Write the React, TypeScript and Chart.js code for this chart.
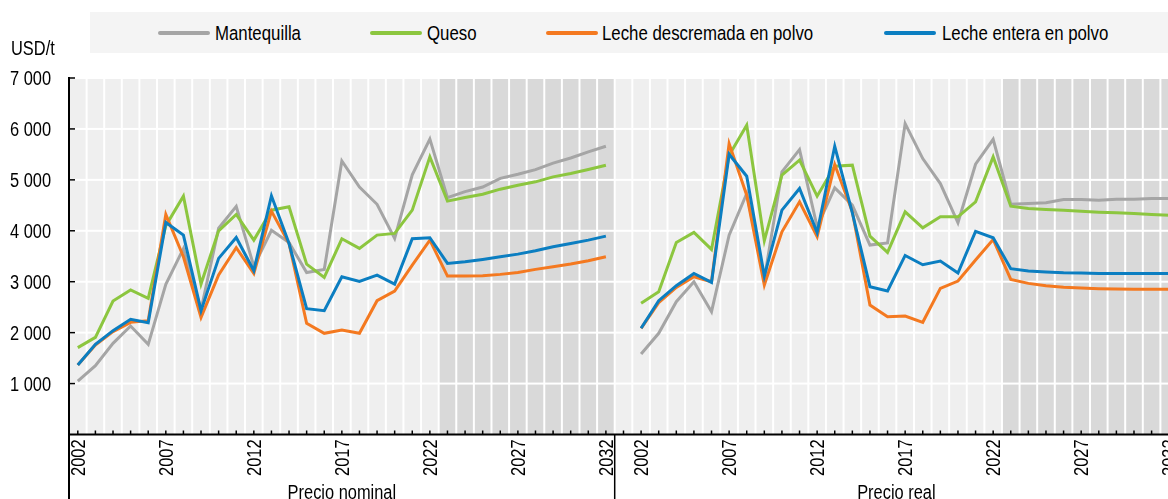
import React, { useEffect, useRef } from "react";
import { Chart, registerables } from "chart.js";

Chart.register(...registerables);

// ---------- Data ----------
const YEARS = [
  2002, 2003, 2004, 2005, 2006, 2007, 2008, 2009, 2010, 2011, 2012, 2013, 2014, 2015, 2016,
  2017, 2018, 2019, 2020, 2021, 2022, 2023, 2024, 2025, 2026, 2027, 2028, 2029, 2030, 2031, 2032,
];
const PROJECTION_START = 2023;
const LABEL_EVERY_FROM = 2002;
const PANEL_TITLES = ["Precio nominal", "Precio real"];
const SERIES_NAMES = ["Mantequilla", "Queso", "Leche descremada en polvo", "Leche entera en polvo"];
const Y_UNIT = "USD/t";
const Y_MIN = 0;
const Y_MAX = 7000;
const Y_STEP = 1000;

// Precio nominal
const butterNominal = [1050, 1350, 1790, 2130, 1770, 2950, 3650, 2450, 4050, 4480, 3300, 4010, 3770, 3180, 3240, 5370, 4860, 4520, 3850, 5100, 5800, 4650, 4770, 4860, 5030, 5110, 5200, 5330, 5430, 5550, 5660];
const cheeseNominal = [1706, 1908, 2621, 2837, 2673, 4100, 4680, 2954, 4000, 4320, 3817, 4405, 4471, 3346, 3085, 3843, 3654, 3915, 3948, 4405, 5451, 4582, 4654, 4719, 4817, 4895, 4961, 5059, 5124, 5203, 5288];
const smpNominal = [1366, 1758, 2020, 2203, 2235, 4320, 3490, 2300, 3131, 3667, 3163, 4386, 3752, 2183, 1987, 2052, 1987, 2627, 2817, 3327, 3817, 3111, 3111, 3118, 3144, 3183, 3242, 3294, 3346, 3412, 3490];
const wmpNominal = [1366, 1771, 2039, 2261, 2196, 4163, 3915, 2431, 3458, 3869, 3216, 4686, 3750, 2471, 2431, 3098, 3007, 3131, 2954, 3843, 3863, 3359, 3392, 3438, 3490, 3542, 3608, 3686, 3752, 3817, 3895];

// Precio real
const butterReal = [1582, 1987, 2608, 3000, 2412, 3915, 4732, 3050, 5157, 5595, 4078, 4843, 4503, 3719, 3760, 6105, 5418, 4928, 4157, 5307, 5797, 4523, 4536, 4549, 4614, 4614, 4601, 4621, 4621, 4634, 4634];
const cheeseReal = [2575, 2804, 3771, 3967, 3634, 5484, 6072, 3804, 5092, 5386, 4680, 5268, 5288, 3895, 3575, 4373, 4059, 4275, 4275, 4569, 5451, 4484, 4438, 4418, 4405, 4386, 4366, 4353, 4340, 4320, 4307];
const smpReal = [2085, 2588, 2889, 3098, 3000, 5712, 4699, 2935, 3980, 4569, 3882, 5301, 4373, 2542, 2314, 2327, 2203, 2869, 3013, 3425, 3830, 3046, 2967, 2922, 2889, 2876, 2863, 2856, 2850, 2850, 2850];
const wmpReal = [2085, 2627, 2922, 3163, 2987, 5503, 5072, 3111, 4405, 4830, 3967, 5660, 4350, 2902, 2817, 3516, 3333, 3405, 3170, 3987, 3863, 3255, 3209, 3190, 3176, 3170, 3163, 3163, 3163, 3163, 3163];

// ---------- Styles ----------
const COLORS = ["#a5a5a5", "#8cc63f", "#f47920", "#0b7ec1"];
const FONT = "'Liberation Sans', Arial, sans-serif";
const NARROW = 0.82; // horizontal squeeze to mimic Arial Narrow
const FONT_SIZE = 20;
const STRIPE = "#efefef";
const STRIPE_PROJ = "#d9d9d9";

const nominalSeries = [butterNominal, cheeseNominal, smpNominal, wmpNominal];
const realSeries = [butterReal, cheeseReal, smpReal, wmpReal];

// category labels: left panel, gap category, right panel
const LABELS: string[] = [...YEARS.map(String), "", ...YEARS.map(String)];
const LEFT_COUNT = YEARS.length;

function fmt(v: number): string {
  return String(v).replace(/\B(?=(\d{3})+(?!\d))/g, " ");
}

function narrowText(
  ctx: CanvasRenderingContext2D,
  text: string,
  x: number,
  y: number,
  align: CanvasTextAlign,
  rotate = 0
) {
  ctx.save();
  ctx.translate(x, y);
  if (rotate) ctx.rotate(rotate);
  ctx.scale(NARROW, 1);
  ctx.font = `${FONT_SIZE}px ${FONT}`;
  ctx.fillStyle = "#000000";
  ctx.textAlign = align;
  ctx.textBaseline = "alphabetic";
  ctx.fillText(text, 0, 0);
  ctx.restore();
}

const backgroundPlugin = {
  id: "stripes",
  beforeDraw(chart: any) {
    const { ctx, chartArea: a, scales } = chart;
    const x = scales.x;
    const y = scales.y;
    const step = x.getPixelForValue(1) - x.getPixelForValue(0);
    ctx.save();
    ctx.fillStyle = "#ffffff";
    ctx.fillRect(a.left, a.top, a.right - a.left, a.bottom - a.top);
    for (let i = 0; i < LABELS.length; i++) {
      const cx = x.getPixelForValue(i);
      const yr = Number(LABELS[i]);
      const proj = LABELS[i] !== "" && yr >= PROJECTION_START;
      ctx.fillStyle = proj ? STRIPE_PROJ : STRIPE;
      ctx.fillRect(cx - step / 2 + 1, a.top, step - 2, a.bottom - a.top);
    }
    ctx.fillStyle = "#ffffff";
    for (let v = Y_MIN + Y_STEP; v <= Y_MAX; v += Y_STEP) {
      const yy = y.getPixelForValue(v);
      ctx.fillRect(a.left, yy - 1, a.right - a.left, 2);
    }
    ctx.restore();
  },
};

const axesPlugin = {
  id: "axesInward",
  afterDraw(chart: any) {
    const { ctx, chartArea: a, scales, height } = chart;
    const x = scales.x;
    const y = scales.y;
    const step = x.getPixelForValue(1) - x.getPixelForValue(0);
    const capHalf = FONT_SIZE * 0.716 / 2;
    ctx.save();
    ctx.strokeStyle = "#000000";
    // y ticks (inward) + labels
    ctx.lineWidth = 1.5;
    for (let v = Y_MIN + Y_STEP; v <= Y_MAX; v += Y_STEP) {
      const yy = y.getPixelForValue(v);
      ctx.beginPath();
      ctx.moveTo(a.left, yy);
      ctx.lineTo(a.left + 6, yy);
      ctx.stroke();
      narrowText(ctx, fmt(v), a.left - 18, yy + capHalf, "right");
    }
    // x ticks (inward) + rotated labels
    for (let i = 0; i < LABELS.length; i++) {
      const cx = x.getPixelForValue(i);
      ctx.beginPath();
      ctx.moveTo(cx, a.bottom);
      ctx.lineTo(cx, a.bottom - 4);
      ctx.stroke();
      const lab = LABELS[i];
      if (lab && (Number(lab) - LABEL_EVERY_FROM) % 5 === 0) {
        narrowText(ctx, lab, cx + capHalf, a.bottom + 5, "right", -Math.PI / 2);
      }
    }
    ctx.lineWidth = 2;
    // y axis line (extends down through label area)
    ctx.beginPath();
    ctx.moveTo(a.left, a.top - 1);
    ctx.lineTo(a.left, height);
    ctx.stroke();
    // x axis line
    ctx.beginPath();
    ctx.moveTo(a.left, a.bottom);
    ctx.lineTo(a.right, a.bottom);
    ctx.stroke();
    // panel dividers
    const divs = [x.getPixelForValue(LEFT_COUNT - 1) + step / 2, x.getPixelForValue(LABELS.length - 1) + step / 2];
    ctx.lineWidth = 1.5;
    for (const dx of divs) {
      ctx.beginPath();
      ctx.moveTo(dx, a.bottom);
      ctx.lineTo(dx, height);
      ctx.stroke();
    }
    // panel titles
    const leftMid = (a.left + divs[0]) / 2;
    const rightMid = (divs[0] + divs[1]) / 2;
    narrowText(ctx, PANEL_TITLES[0], leftMid, height - 0.5, "center");
    narrowText(ctx, PANEL_TITLES[1], rightMid, height - 0.5, "center");
    ctx.restore();
  },
};

export default function App() {
  const ref = useRef<HTMLCanvasElement | null>(null);

  useEffect(() => {
    if (!ref.current) return;
    const pad = (arr: number[], before: boolean) => {
      const nulls: (number | null)[] = [];
      const gapLen = LABELS.length - arr.length;
      for (let i = 0; i < gapLen; i++) nulls.push(null);
      return before ? [...nulls, ...arr] : [...arr, ...nulls];
    };
    const datasets: any[] = [];
    SERIES_NAMES.forEach((name, i) => {
      datasets.push({
        label: name,
        data: pad(nominalSeries[i], false),
        borderColor: COLORS[i],
        backgroundColor: COLORS[i],
        borderWidth: 3,
        pointRadius: 0,
        tension: 0,
        spanGaps: false,
        order: 4 - i,
      });
      datasets.push({
        label: name + " (real)",
        data: pad(realSeries[i], true),
        borderColor: COLORS[i],
        backgroundColor: COLORS[i],
        borderWidth: 3,
        pointRadius: 0,
        tension: 0,
        spanGaps: false,
        order: 4 - i,
      });
    });

    const chart = new Chart(ref.current, {
      type: "line",
      data: { labels: LABELS, datasets },
      options: {
        responsive: false,
        animation: false,
        devicePixelRatio: 1,
        layout: { padding: { top: 78, right: 2, left: 0, bottom: 0 } },
        plugins: { legend: { display: false }, tooltip: { enabled: false } },
        scales: {
          x: {
            type: "category",
            offset: true,
            grid: { display: false, drawTicks: false },
            border: { display: false },
            ticks: { display: false },
            afterFit: (s: any) => {
              s.height = 64.5;
              s.paddingLeft = 0;
              s.paddingRight = 0;
            },
          },
          y: {
            min: Y_MIN,
            max: Y_MAX,
            grid: { display: false, drawTicks: false },
            border: { display: false },
            ticks: { display: false, stepSize: Y_STEP },
            afterFit: (s: any) => {
              s.width = 69;
              s.paddingTop = 0;
              s.paddingBottom = 0;
            },
          },
        },
      },
      plugins: [backgroundPlugin, axesPlugin],
    });
    return () => chart.destroy();
  }, []);

  const legendItems = [
    { line: 158, text: 215 },
    { line: 370, text: 427 },
    { line: 546, text: 602 },
    { line: 884, text: 942 },
  ];

  const narrowStyle: React.CSSProperties = {
    position: "absolute",
    fontSize: FONT_SIZE,
    lineHeight: `${FONT_SIZE}px`,
    whiteSpace: "nowrap",
    transform: `scaleX(${NARROW})`,
    transformOrigin: "0 0",
  };

  return (
    <div
      style={{
        position: "fixed",
        left: 0,
        top: 0,
        width: 1168,
        height: 499,
        overflow: "hidden",
        background: "#ffffff",
        fontFamily: FONT,
        color: "#000",
      }}
    >
      <canvas ref={ref} width={1180} height={499} style={{ position: "absolute", left: 0, top: 0 }} />
      <div
        style={{
          position: "absolute",
          left: 90,
          top: 12,
          width: 1100,
          height: 41,
          background: "#f4f4f4",
        }}
      />
      {SERIES_NAMES.map((name, i) => (
        <React.Fragment key={name}>
          <div
            style={{
              position: "absolute",
              left: legendItems[i].line,
              top: 31,
              width: 52,
              height: 4,
              borderRadius: 2,
              background: COLORS[i],
            }}
          />
          <div style={{ ...narrowStyle, left: legendItems[i].text, top: 23, fontSize: 20.5 }}>{name}</div>
        </React.Fragment>
      ))}
      <div style={{ ...narrowStyle, left: 11, top: 37.5 }}>{Y_UNIT}</div>
    </div>
  );
}
